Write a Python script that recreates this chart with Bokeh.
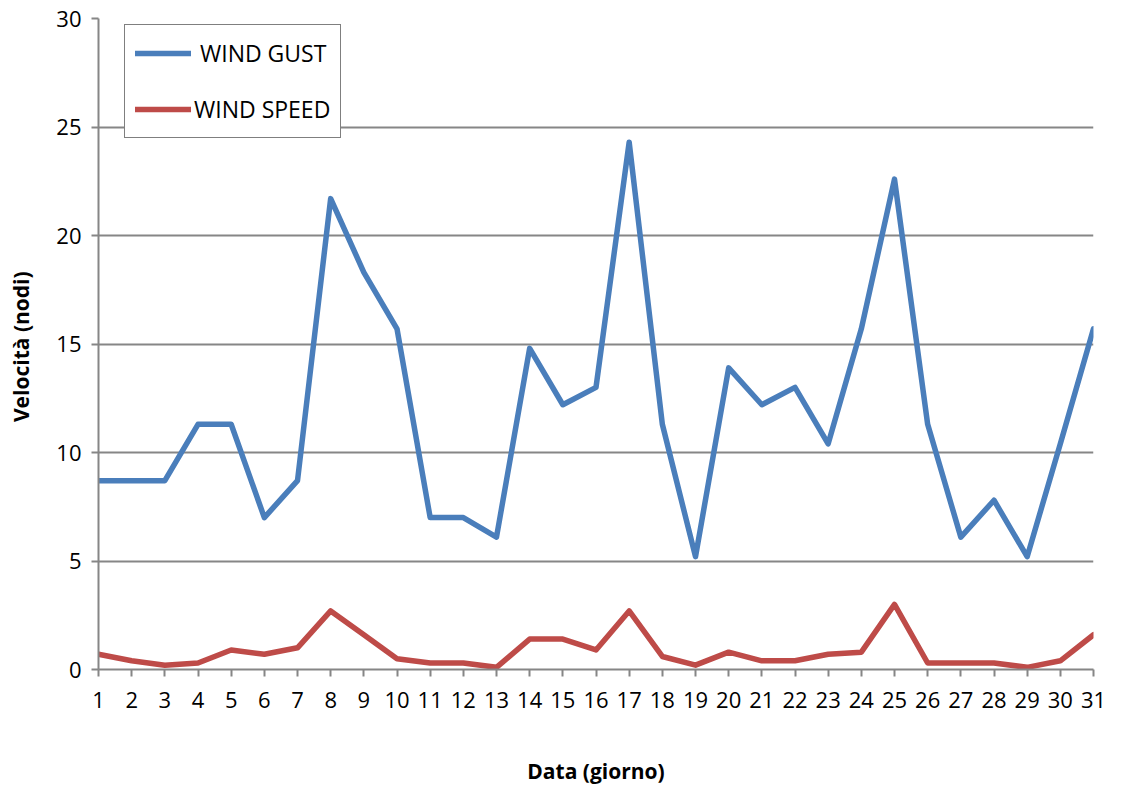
from bokeh.plotting import figure
from bokeh.models import Legend, LegendItem, Range1d, FixedTicker
from bokeh.embed import file_html
from bokeh.resources import INLINE

days = list(range(1, 32))
wind_gust = [8.7, 8.7, 8.7, 11.3, 11.3, 7.0, 8.7, 21.7, 18.3, 15.7, 7.0, 7.0, 6.1, 14.8, 12.2, 13.0,
             24.3, 11.3, 5.2, 13.9, 12.2, 13.0, 10.4, 15.7, 22.6, 11.3, 6.1, 7.8, 5.2, 10.4, 15.7]
wind_speed = [0.7, 0.4, 0.2, 0.3, 0.9, 0.7, 1.0, 2.7, 1.6, 0.5, 0.3, 0.3, 0.1, 1.4, 1.4, 0.9,
              2.7, 0.6, 0.2, 0.8, 0.4, 0.4, 0.7, 0.8, 3.0, 0.3, 0.3, 0.3, 0.1, 0.4, 1.6]
y_ticks = [0, 5, 10, 15, 20, 25, 30]

FONT = "Open Sans"
GRID = "#868686"

p = figure(width=1107, height=788, output_backend="svg", toolbar_location=None,
           x_range=Range1d(1, 31), y_range=Range1d(0, 30),
           min_border_left=98, min_border_right=14, min_border_top=18, min_border_bottom=119)
p.outline_line_color = None

l1 = p.line(days, wind_gust, line_color="#4A7EBB", line_width=5.5, line_join="round", line_cap="round")
l2 = p.line(days, wind_speed, line_color="#BE4B48", line_width=5.5, line_join="round", line_cap="round")

p.xgrid.grid_line_color = None
p.ygrid.grid_line_color = GRID
p.ygrid.grid_line_width = 2
p.ygrid.ticker = FixedTicker(ticks=y_ticks)

p.xaxis.ticker = FixedTicker(ticks=days)
p.yaxis.ticker = FixedTicker(ticks=y_ticks)
for ax in (p.xaxis[0], p.yaxis[0]):
    ax.axis_line_color = GRID
    ax.axis_line_width = 2
    ax.major_tick_line_color = GRID
    ax.major_tick_line_width = 2
    ax.major_tick_in = 0
    ax.major_tick_out = 7
    ax.minor_tick_line_color = None
    ax.major_label_text_font = FONT
    ax.major_label_text_font_size = "22px"
    ax.major_label_text_color = "#000000"
    ax.axis_label_text_font = FONT
    ax.axis_label_text_font_style = "bold"
    ax.axis_label_text_font_size = "21px"
    ax.axis_label_text_color = "#000000"

p.xaxis.major_label_standoff = 15
p.yaxis.major_label_standoff = 10
p.xaxis.axis_label = "Data (giorno)"
p.xaxis.axis_label_standoff = 46
p.yaxis.axis_label = "Velocità  (nodi)"
p.yaxis.axis_label_standoff = 18

legend = Legend(items=[LegendItem(label=" WIND GUST", renderers=[l1]),
                       LegendItem(label="WIND SPEED", renderers=[l2])],
                location=(26, 531))
legend.border_line_color = "#000000"
legend.border_line_width = 1.5
legend.label_text_font = FONT
legend.label_text_font_size = "23px"
legend.label_text_color = "#000000"
legend.glyph_width = 56
legend.glyph_height = 36
legend.label_height = 36
legend.spacing = 20
legend.padding = 10
legend.margin = 0
legend.label_standoff = 3
legend.background_fill_alpha = 1.0
p.add_layout(legend)

open("out.html", "w").write(file_html(p, INLINE))
